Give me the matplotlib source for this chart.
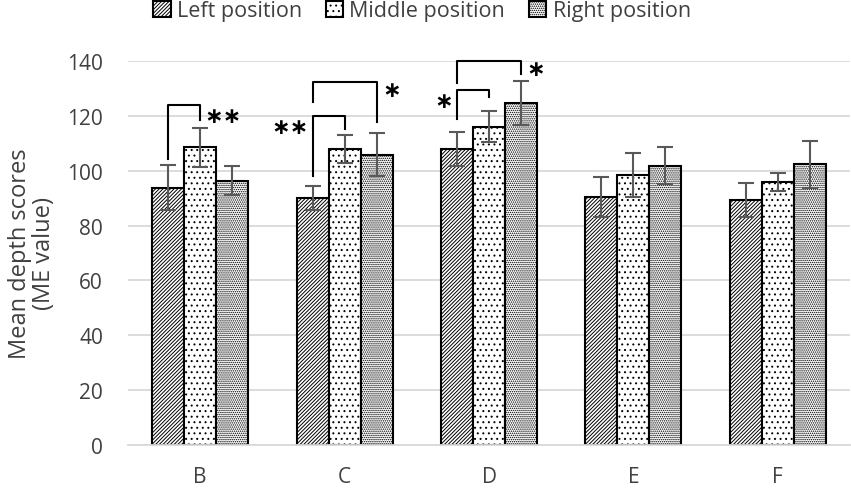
import matplotlib.pyplot as plt
import numpy as np

plt.rcParams['font.family'] = ['Open Sans', 'DejaVu Sans']
plt.rcParams['hatch.linewidth'] = 0.7

categories = ['B', 'C', 'D', 'E', 'F']
series_names = ['Left position', 'Middle position', 'Right position']
left_mean = [93.8, 90.0, 107.9, 90.4, 89.4]
left_err = [8.2, 4.3, 6.3, 7.2, 6.3]
middle_mean = [108.5, 107.9, 116.0, 98.4, 95.8]
middle_err = [7.0, 5.1, 5.6, 8.0, 3.3]
right_mean = [96.4, 105.9, 124.7, 101.9, 102.3]
right_err = [5.3, 7.9, 7.9, 6.9, 8.7]

# significance brackets: (category, bar from, bar to, y start, y top, y end, label)
brackets = [
    (0, 0, 1, 104.2, 124.0, 118.5, '∗∗'),
    (1, 0, 1, 97.9, 120.0, 115.1, '∗∗'),
    (1, 0, 2, 125.0, 132.5, 117.8, '∗'),
    (2, 0, 1, 118.8, 129.3, 126.9, '∗'),
    (2, 0, 2, 131.8, 140.1, 135.4, '∗'),
]

fig = plt.figure(figsize=(8.51, 4.89), dpi=100)
ax = fig.add_axes([128 / 851, 1 - 446 / 489, 722 / 851, 384 / 489])

x = np.arange(len(categories))
w = 0.222
means = [left_mean, middle_mean, right_mean]
errs = [left_err, middle_err, right_err]
hatches = ['/' * 9, '...', '.' * 8]

handles = []
for i in range(3):
    b = ax.bar(x + (i - 1) * w, means[i], w, color='white', edgecolor='black',
               linewidth=1.5, hatch=hatches[i], label=series_names[i], zorder=2)
    ax.errorbar(x + (i - 1) * w, means[i], yerr=errs[i], fmt='none',
                ecolor='#595959', elinewidth=1.5, capsize=6, capthick=1.5, zorder=3)
    handles.append(b)

star_kw = dict(va='center', fontsize=16, family='DejaVu Sans', fontweight='bold')
for cat, b0, b1, y0, ytop, y1, lab in brackets:
    xa = cat + (b0 - 1) * w
    xb = cat + (b1 - 1) * w
    ax.plot([xa, xa, xb, xb], [y0, ytop, ytop, y1], color='black', lw=1.5,
            clip_on=False, zorder=4)
    if cat == 0:
        ax.text(xb + 0.03, ytop - 4, lab, ha='left', **star_kw)
    elif b1 == 1:
        ax.text(xa - 0.03, ytop - 4, lab, ha='right', **star_kw)
    else:
        ax.text(xb + 0.04, ytop - 3, lab, ha='left', **star_kw)

ax.set_xlim(-0.5, len(categories) - 0.5)
ax.set_ylim(0, 140)
ax.set_yticks(range(0, 141, 20))
ax.set_xticks(x)
ax.set_xticklabels(categories)
ax.tick_params(length=0, colors='#404040')
ax.tick_params(axis='y', pad=18, labelsize=15)
ax.tick_params(axis='x', pad=15, labelsize=15)
ax.grid(axis='y', color='#d9d9d9', linewidth=1.3, zorder=0)
ax.set_axisbelow(True)
for s in ['top', 'right', 'left']:
    ax.spines[s].set_visible(False)
ax.spines['bottom'].set_color('#d9d9d9')
ax.spines['bottom'].set_linewidth(1.3)
ax.set_ylabel('Mean depth scores\n(ME value)', fontsize=17, color='#404040',
              labelpad=8, linespacing=1.0)

fig.legend(handles=handles, loc='center', bbox_to_anchor=(422 / 851, 1 - 12 / 489),
           ncol=3, frameon=False, fontsize=15.5, handlelength=0.8, handleheight=0.8,
           handletextpad=0.3, columnspacing=1.1, labelcolor='#404040')

fig.savefig('out.png', dpi=100)
